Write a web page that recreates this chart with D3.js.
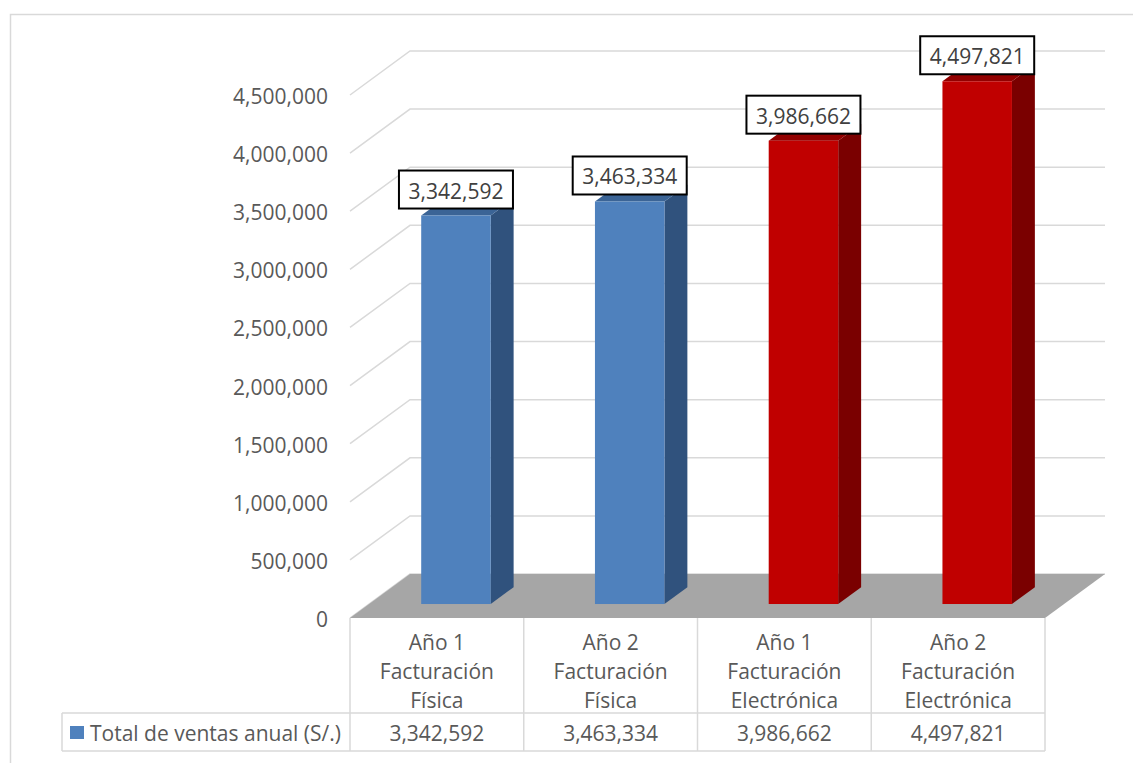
<!DOCTYPE html>
<html>
<head>
<meta charset="utf-8">
<script src="https://cdn.jsdelivr.net/npm/d3@7"></script>
<style>
  body { margin: 0; background: #fff; }
  text { font-family: "Open Sans", "Noto Sans", sans-serif; }
</style>
</head>
<body>
<script>
'use strict';

// chart data
const categories = [
  "Año 1\nFacturación\nFísica",
  "Año 2\nFacturación\nFísica",
  "Año 1\nFacturación\nElectrónica",
  "Año 2\nFacturación\nElectrónica"
];
const values = [3342592, 3463334, 3986662, 4497821];
const yTicks = [0, 500000, 1000000, 1500000, 2000000, 2500000, 3000000, 3500000, 4000000, 4500000];
const seriesName = "Total de ventas anual (S/.)";

// colours per bar: front, side, top
const palette = [
  { front: "#4f81bd", side: "#30527d", top: "#3b6496" },
  { front: "#4f81bd", side: "#30527d", top: "#3b6496" },
  { front: "#c00000", side: "#7a0000", top: "#920000" },
  { front: "#c00000", side: "#7a0000", top: "#920000" }
];

// layout of the fake 3d box
const X0 = 350, X1 = 1045, Y0 = 618;
const DX = 60, DY = 44;           // depth offset of the back wall
const D1 = 0.318, D2 = 0.70;      // bar depth as fraction of floor depth
const FS = "21px";
const fmt = d3.format(",");

const svg = d3.select("body").append("svg")
  .attr("width", 1133)
  .attr("height", 763);

// outer chart border
svg.append("rect")
  .attr("x", 10.5).attr("y", 14.5)
  .attr("width", 1200).attr("height", 800)
  .attr("fill", "none")
  .attr("stroke", "#d9d9d9")
  .attr("stroke-width", 1.5);

const y = d3.scaleLinear().domain([0, 4500000]).range([0, 523]);

const x = d3.scaleBand()
  .domain(categories)
  .range([X0, X1])
  .paddingInner(0.6)
  .paddingOuter(0.3);

const xCell = d3.scaleBand().domain(categories).range([X0, X1]);

// gridlines: diagonal on the side wall, then across the back wall
svg.append("g").selectAll("path")
  .data(yTicks)
  .enter()
  .append("path")
    .attr("d", t => {
      let h = y(t);
      return "M" + X0 + "," + (Y0 - h) +
        "L" + (X0 + DX) + "," + (Y0 - DY - h) +
        "L" + (X1 + DX) + "," + (Y0 - DY - h);
    })
    .attr("fill", "none")
    .attr("stroke", "#d9d9d9")
    .attr("stroke-width", 1.5);

// tick labels
svg.append("g").selectAll("text")
  .data(yTicks)
  .enter()
  .append("text")
    .attr("x", 328)
    .attr("y", t => Y0 - y(t) + 1)
    .attr("text-anchor", "end")
    .attr("dominant-baseline", "central")
    .style("font-size", FS)
    .attr("fill", "#595959")
    .text(t => fmt(t));

// floor
svg.append("polygon")
  .attr("points", [[X0, Y0], [X0 + DX, Y0 - DY], [X1 + DX, Y0 - DY], [X1, Y0]].join(" "))
  .attr("fill", "#a6a6a6");

// bars
const bw = x.bandwidth();
const ddx = DX * (D2 - D1), ddy = DY * (D2 - D1);

categories.forEach(function(c, i) {
  let xa = x(c) + DX * D1;
  let xb = xa + bw;
  let yb = Y0 - DY * D1;
  let yt = yb - y(values[i]);
  let col = palette[i];

  svg.append("polygon")
    .attr("points", [[xb, yb], [xb, yt], [xb + ddx, yt - ddy], [xb + ddx, yb - ddy]].join(" "))
    .attr("fill", col.side);
  svg.append("polygon")
    .attr("points", [[xa, yt], [xb, yt], [xb + ddx, yt - ddy], [xa + ddx, yt - ddy]].join(" "))
    .attr("fill", col.top);
  svg.append("rect")
    .attr("x", xa).attr("y", yt)
    .attr("width", bw).attr("height", yb - yt)
    .attr("fill", col.front);

  // data label box
  let cx = xa + bw / 2;
  svg.append("rect")
    .attr("x", cx - 57).attr("y", yt - 7 - 38)
    .attr("width", 114).attr("height", 38)
    .attr("fill", "#fff")
    .attr("stroke", "#000")
    .attr("stroke-width", 2);
  svg.append("text")
    .attr("x", cx)
    .attr("y", yt - 7 - 19 + 1)
    .attr("text-anchor", "middle")
    .attr("dominant-baseline", "central")
    .style("font-size", FS)
    .attr("fill", "#404040")
    .text(fmt(values[i]));
});

// data table below the floor
const tbl = svg.append("g")
  .attr("stroke", "#d9d9d9")
  .attr("stroke-width", 1.5);

tbl.append("line").attr("x1", 62).attr("x2", X1).attr("y1", 713).attr("y2", 713);
tbl.append("line").attr("x1", 62).attr("x2", X1).attr("y1", 751).attr("y2", 751);
tbl.append("line").attr("x1", 62).attr("x2", 62).attr("y1", 713).attr("y2", 751);
tbl.selectAll(".vline")
  .data(categories.map(c => xCell(c)).concat([X1]))
  .enter()
  .append("line")
    .attr("class", "vline")
    .attr("x1", d => d).attr("x2", d => d)
    .attr("y1", Y0).attr("y2", 751);

categories.forEach(function(c, i) {
  let cx = xCell(c) + xCell.bandwidth() / 2;
  c.split("\n").forEach(function(line, j) {
    svg.append("text")
      .attr("x", cx)
      .attr("y", 642 + j * 28.8)
      .attr("text-anchor", "middle")
      .attr("dominant-baseline", "central")
      .style("font-size", FS)
      .attr("fill", "#595959")
      .text(line);
  });
  svg.append("text")
    .attr("x", cx)
    .attr("y", 733)
    .attr("text-anchor", "middle")
    .attr("dominant-baseline", "central")
    .style("font-size", FS)
    .attr("fill", "#595959")
    .text(fmt(values[i]));
});

// legend key inside the table
svg.append("rect")
  .attr("x", 70).attr("y", 726)
  .attr("width", 14).attr("height", 13)
  .attr("fill", palette[0].front);
svg.append("text")
  .attr("x", 90)
  .attr("y", 733)
  .attr("dominant-baseline", "central")
  .style("font-size", FS)
  .attr("fill", "#595959")
  .text(seriesName);
</script>
</body>
</html>
